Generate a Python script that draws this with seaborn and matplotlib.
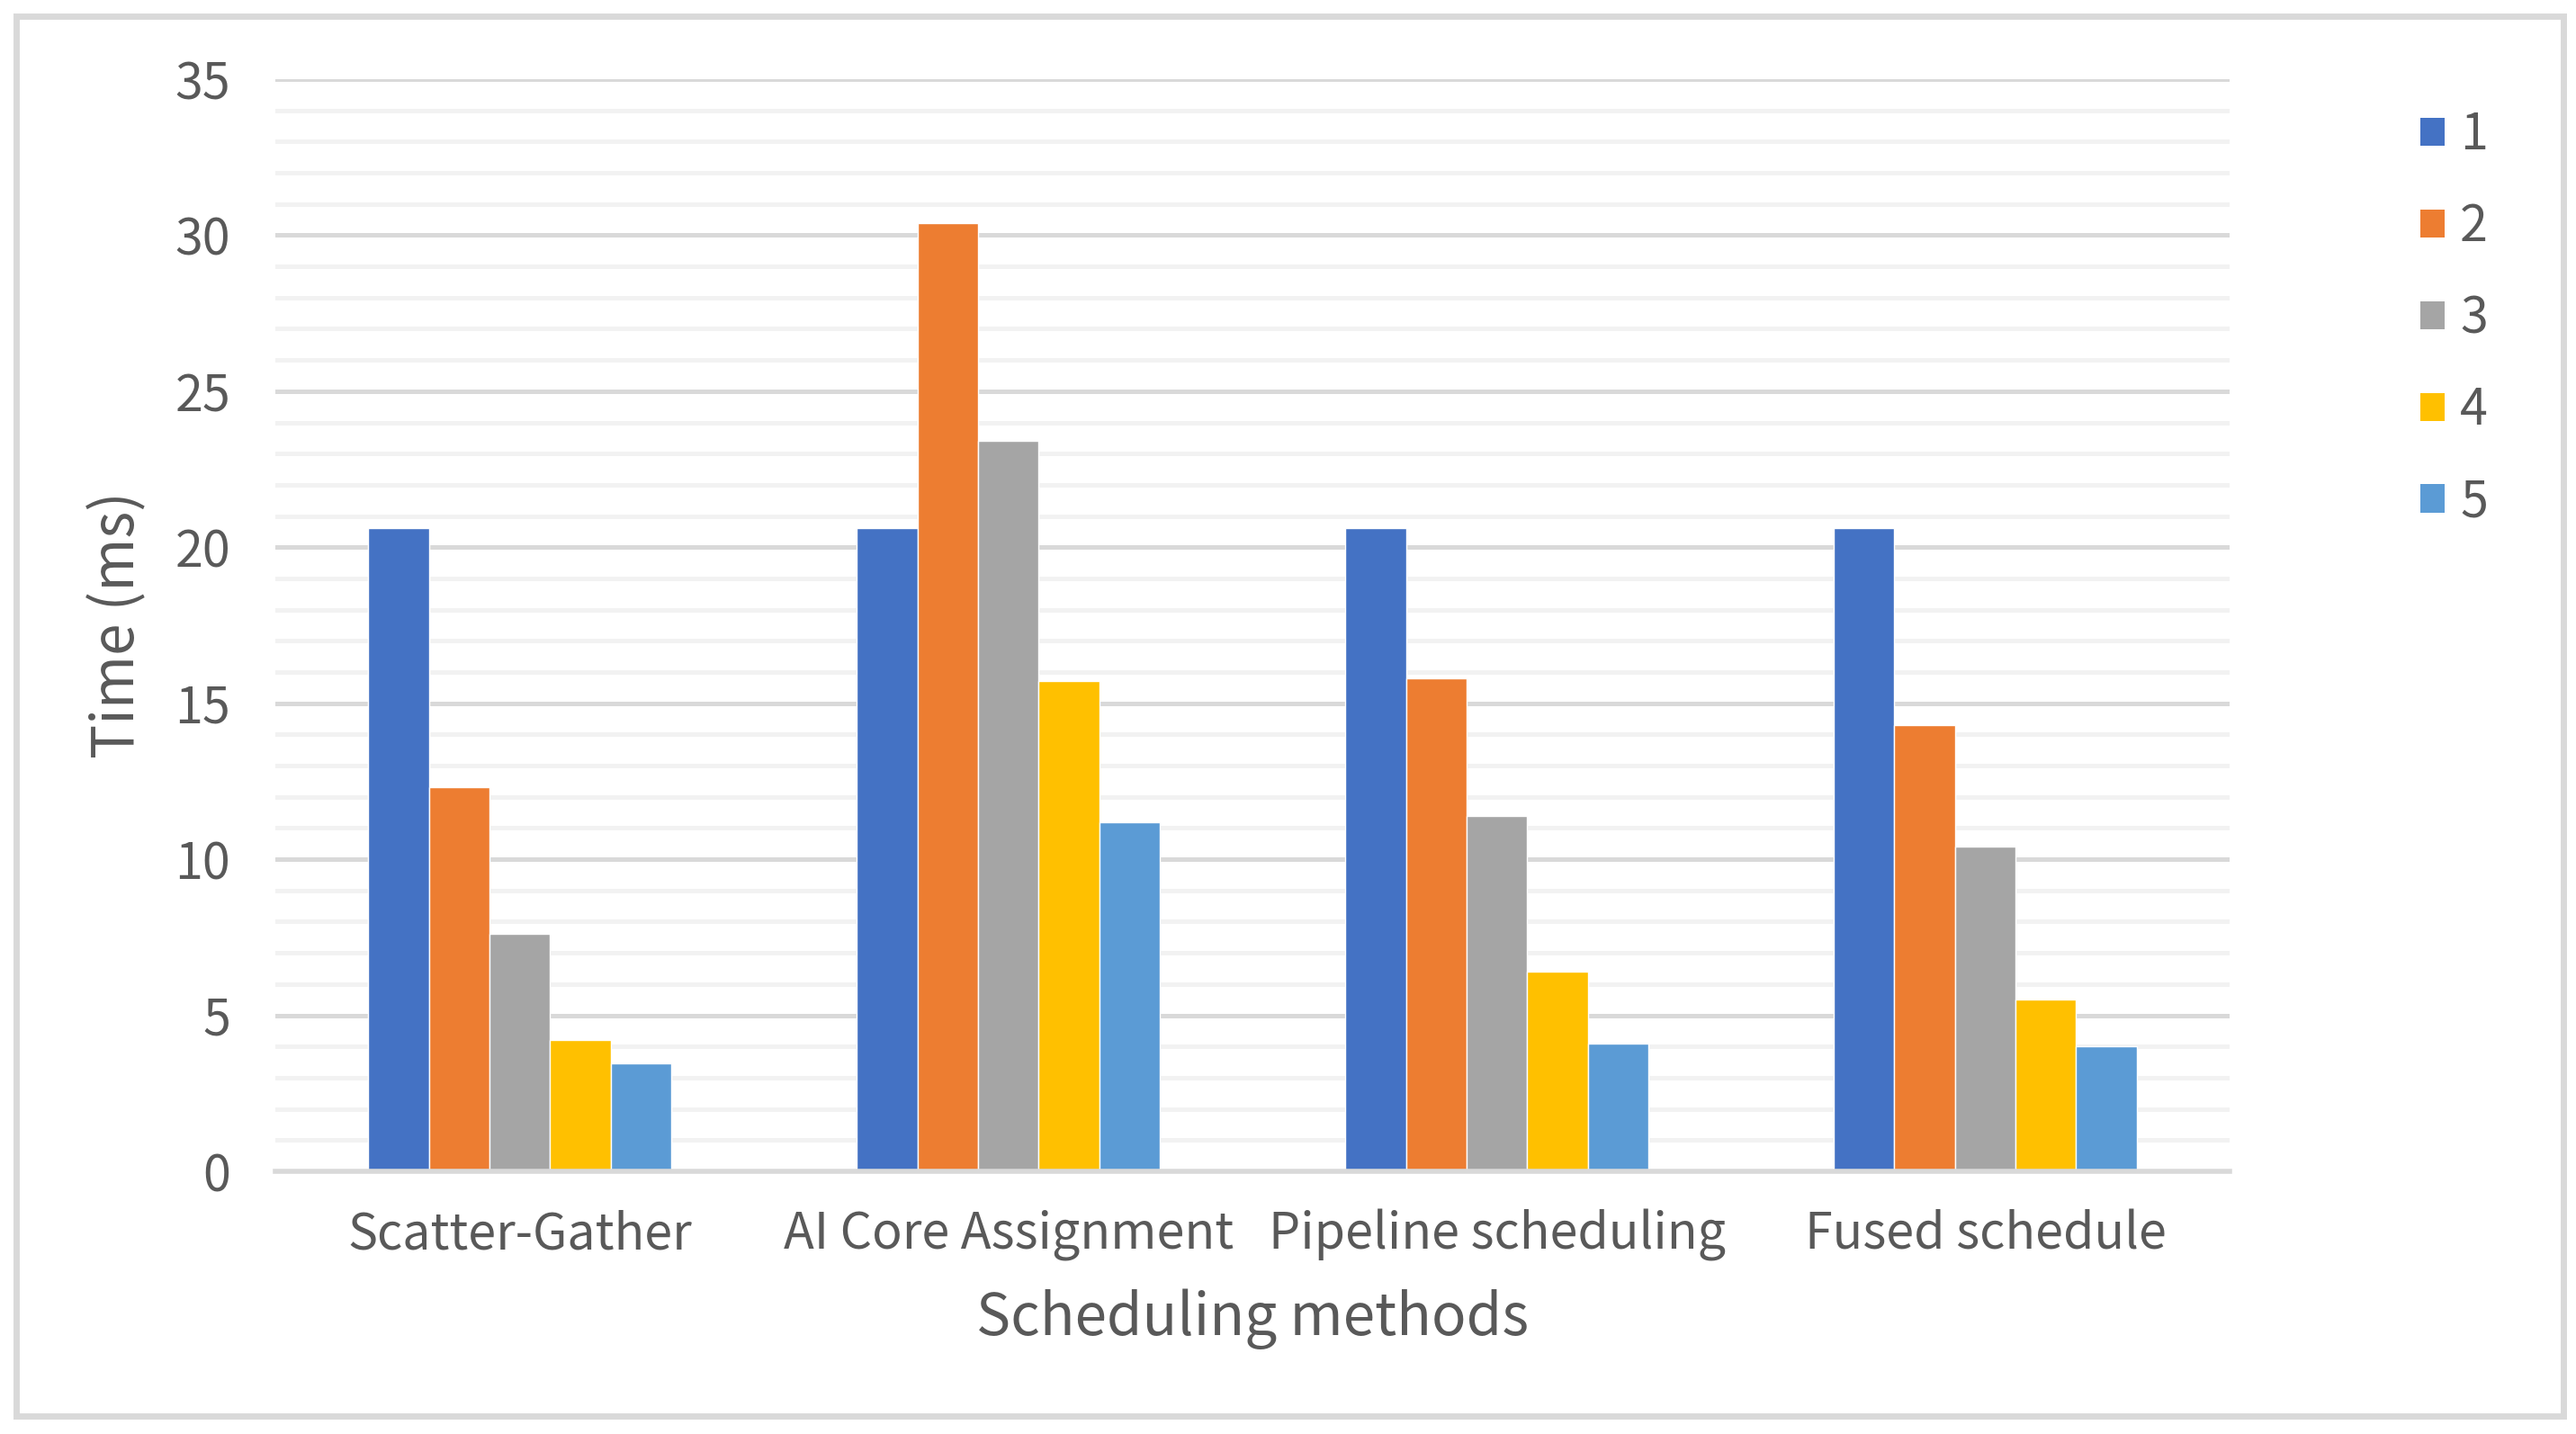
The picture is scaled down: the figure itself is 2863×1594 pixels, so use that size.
# recreate grouped bar chart: time per scheduling method
import pandas as pd
import matplotlib
matplotlib.use('Agg')
import matplotlib.pyplot as plt
from matplotlib.patches import Patch, Rectangle
from matplotlib.ticker import MultipleLocator
import seaborn as sns

# data
methods = ['Scatter-Gather', 'AI Core Assignment', 'Pipeline scheduling', 'Fused schedule']
series = ['1', '2', '3', '4', '5']
s1 = [20.6, 20.6, 20.6, 20.6]
s2 = [12.3, 30.4, 15.8, 14.3]
s3 = [7.6, 23.4, 11.4, 10.4]
s4 = [4.2, 15.7, 6.4, 5.5]
s5 = [3.45, 11.2, 4.1, 4.0]
colors = ['#4472C4', '#ED7D31', '#A5A5A5', '#FFC000', '#5B9BD5']

rows = []
for name, vals in zip(series, [s1, s2, s3, s4, s5]):
    for m, v in zip(methods, vals):
        rows.append({'method': m, 'series': name, 'time': v})
df = pd.DataFrame(rows)

sns.set_theme(style='white')
plt.rcParams['font.family'] = ['Noto Sans CJK SC', 'DejaVu Sans']
plt.rcParams['font.weight'] = 'light'
text_col = '#595959'

fig = plt.figure(figsize=(28.63, 15.94), dpi=100)
ax = fig.add_axes([0.107, 0.1832, 0.7585, 0.7616])

sns.barplot(data=df, x='method', y='time', hue='series', palette=colors,
            width=0.62, saturation=1, ax=ax, legend=False, zorder=3)

ax.set_ylim(0, 35)
ax.yaxis.set_major_locator(MultipleLocator(5))
ax.yaxis.set_minor_locator(MultipleLocator(1))
ax.grid(which='major', axis='y', color='#D9D9D9', linewidth=3.6, zorder=0)
ax.grid(which='minor', axis='y', color='#F2F2F2', linewidth=3.6, zorder=0)
ax.set_axisbelow(True)
for side in ['top', 'right', 'left']:
    ax.spines[side].set_visible(False)
ax.spines['bottom'].set_color('#D9D9D9')
ax.spines['bottom'].set_linewidth(4)
ax.spines['bottom'].set_zorder(4)
ax.tick_params(axis='both', which='both', length=0, labelsize=40, colors=text_col)
ax.tick_params(axis='x', pad=30)
ax.tick_params(axis='y', pad=36)
ax.set_xlim(-0.5, 3.5)

ax.set_xlabel('Scheduling methods', fontsize=46, color=text_col, labelpad=22)
ax.set_ylabel('Time (ms)', fontsize=46, color=text_col, labelpad=22)

handles = [Patch(facecolor=c, edgecolor='none') for c in colors]
fig.legend(handles, series, loc='upper left', bbox_to_anchor=(0.922, 0.955),
           frameon=False, fontsize=40, labelcolor=text_col,
           handlelength=0.5, handleheight=0.5, handletextpad=0.3, labelspacing=0.8)

# outer chart border
fig.patches.append(Rectangle((18 / 2863, 20 / 1594), 2831 / 2863, 1556 / 1594,
                             transform=fig.transFigure, fill=False,
                             edgecolor='#D9D9D9', linewidth=5))

plt.savefig('out.png', dpi=100)
